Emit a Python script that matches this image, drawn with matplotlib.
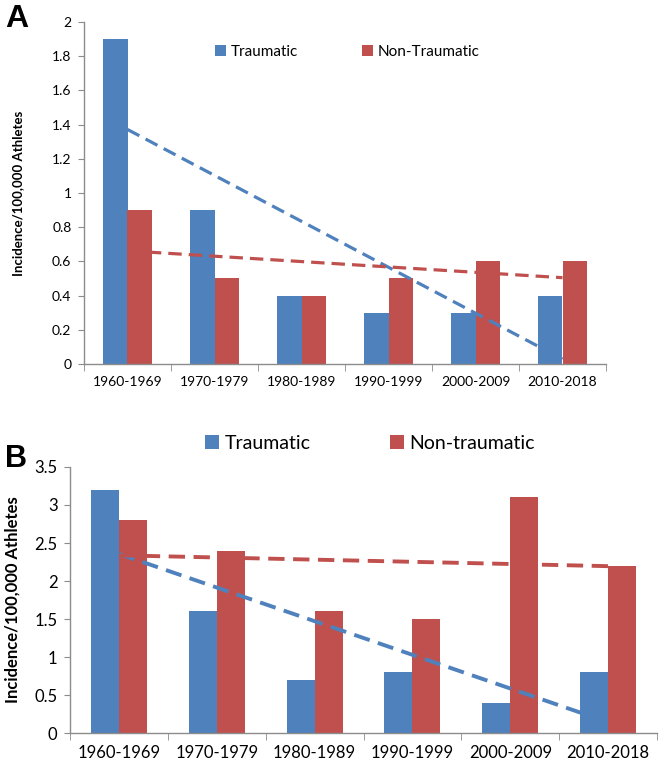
import matplotlib
matplotlib.use("Agg")
import matplotlib.pyplot as plt
import numpy as np

plt.rcParams['font.family'] = ['Lato', 'DejaVu Sans']

decades = ['1960-1969', '1970-1979', '1980-1989', '1990-1999', '2000-2009',
           '2010-2018']

# panel A
trauma_a = [1.9, 0.9, 0.4, 0.3, 0.3, 0.4]
nontrauma_a = [0.9, 0.5, 0.4, 0.5, 0.6, 0.6]
yticks_a = [0, 0.2, 0.4, 0.6, 0.8, 1, 1.2, 1.4, 1.6, 1.8, 2]

# panel B
trauma_b = [3.2, 1.6, 0.7, 0.8, 0.4, 0.8]
nontrauma_b = [2.8, 2.4, 1.6, 1.5, 3.1, 2.2]
yticks_b = [0, 0.5, 1, 1.5, 2, 2.5, 3, 3.5]

BLUE = '#4F81BD'
RED = '#C0504D'
AXIS = '#8C8C8C'
W = 1 / 3.5  # Excel gap width 150%


def draw_panel(ax, trauma, nontrauma, yticks, labels, tick_fs, ylab_fs, lw):
    x = np.arange(len(decades))
    ax.bar(x - W / 2, trauma, W, color=BLUE, label=labels[0], zorder=2)
    ax.bar(x + W / 2, nontrauma, W, color=RED, label=labels[1], zorder=2)

    # linear trendlines (Excel style, over category index)
    for vals, col in ((trauma, BLUE), (nontrauma, RED)):
        k, b = np.polyfit(x + 1, vals, 1)
        ax.plot(x, k * (x + 1) + b, color=col, lw=lw,
                linestyle=(0, (4.2, 2.2)), zorder=3)

    ax.set_xlim(-0.5, len(decades) - 0.5)
    ax.set_ylim(yticks[0], yticks[-1])
    ax.set_yticks(yticks)
    ax.set_yticklabels([f'{t:g}' for t in yticks], fontsize=tick_fs)
    ax.set_xticks(x)
    ax.set_xticklabels(decades, fontsize=tick_fs)
    ax.set_xticks(np.arange(-0.5, len(decades)), minor=True)
    ax.tick_params(axis='x', which='major', length=0, pad=9)
    ax.tick_params(axis='x', which='minor', length=5, color=AXIS,
                   direction='out')
    ax.tick_params(axis='y', length=4, color=AXIS, pad=5)
    for s in ('top', 'right'):
        ax.spines[s].set_visible(False)
    for s in ('left', 'bottom'):
        ax.spines[s].set_color(AXIS)
        ax.spines[s].set_linewidth(1)
    ax.set_ylabel('Incidence/100,000 Athletes', fontsize=ylab_fs,
                  fontweight='bold')


fig = plt.figure(figsize=(6.6, 7.66), dpi=100)

ax_a = fig.add_axes([84 / 660, 1 - 364 / 766, 522 / 660, 342 / 766])
draw_panel(ax_a, trauma_a, nontrauma_a, yticks_a,
           ('Traumatic', 'Non-Traumatic'), 10, 9.5, 2.3)
ax_a.yaxis.set_label_coords(-0.115, 0.5)
ax_a.legend(loc='center left', bbox_to_anchor=(0.225, 0.912), ncol=2,
            frameon=False, fontsize=11, handlelength=0.7, handleheight=0.7,
            handletextpad=0.3, columnspacing=4.2)

ax_b = fig.add_axes([70 / 660, 1 - 733 / 766, 587 / 660, 266 / 766])
draw_panel(ax_b, trauma_b, nontrauma_b, yticks_b,
           ('Traumatic', 'Non-traumatic'), 12, 12, 2.8)
ax_b.yaxis.set_label_coords(-0.085, 0.5)
ax_b.legend(loc='center left', bbox_to_anchor=(0.2, 1.09), ncol=2,
            frameon=False, fontsize=14, handlelength=0.7, handleheight=0.7,
            handletextpad=0.3, columnspacing=4.1)

fig.text(5 / 660, 1 - 27 / 766, 'A', fontsize=23, fontweight='bold',
         family='Liberation Sans')
fig.text(5 / 660, 1 - 467 / 766, 'B', fontsize=22, fontweight='bold',
         family='Liberation Sans')

fig.savefig('out.png', dpi=100)
